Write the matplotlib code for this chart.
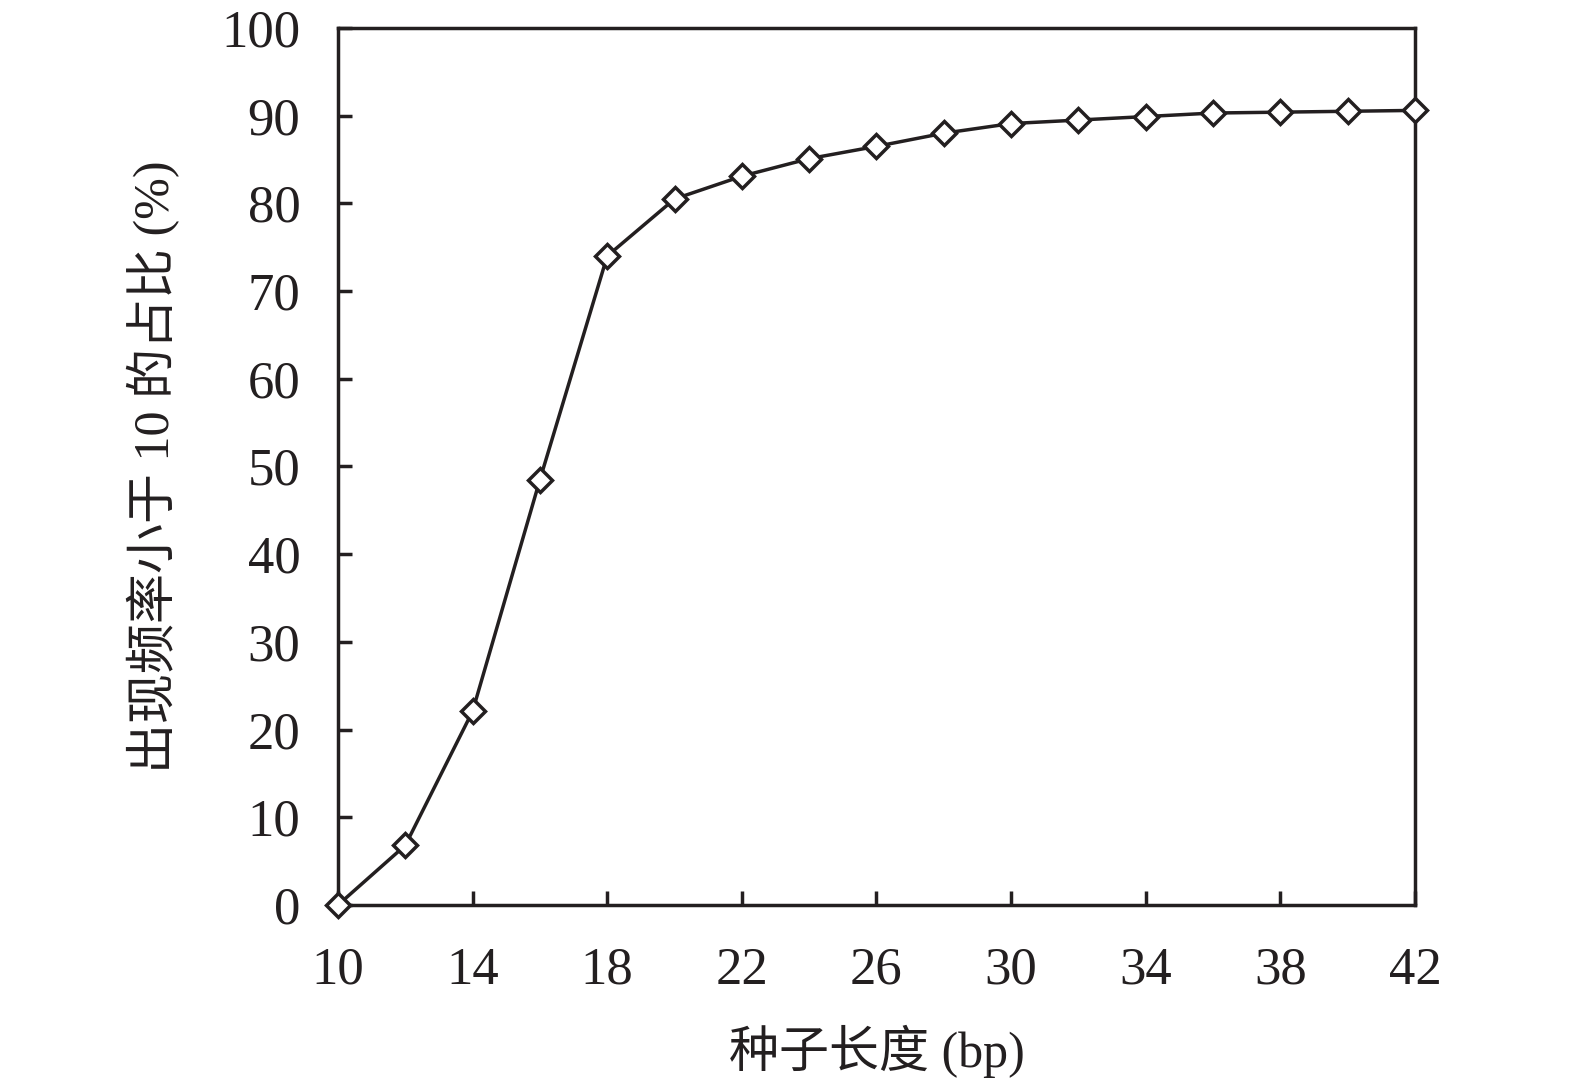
import matplotlib
matplotlib.use("Agg")
import matplotlib.pyplot as plt

seed_length = [10, 12, 14, 16, 18, 20, 22, 24, 26, 28, 30, 32, 34, 36, 38, 40, 42]
ratio = [0.0, 6.8, 22.1, 48.5, 74.0, 80.5, 83.1, 85.1, 86.5, 88.0, 89.1, 89.5, 89.9, 90.3, 90.4, 90.5, 90.6]
x_ticks = [10, 14, 18, 22, 26, 30, 34, 38, 42]
y_ticks = [0, 10, 20, 30, 40, 50, 60, 70, 80, 90, 100]
x_label = "种子长度 (bp)"
y_label = "出现频率小于 10 的占比 (%)"

plt.rcParams['font.family'] = ['Liberation Serif', 'Noto Sans CJK SC', 'DejaVu Sans']
ink = '#231f20'

fig = plt.figure(figsize=(15.75, 10.88), dpi=100)
ax = fig.add_axes([0.2146, 0.1682, 0.8984 - 0.2146, 0.9743 - 0.1682])

ax.plot(seed_length, ratio, color=ink, linewidth=2.5, marker='D', markersize=12.5,
        markerfacecolor='white', markeredgecolor=ink, markeredgewidth=2.5,
        clip_on=False, zorder=5)

ax.set_xlim(10, 42)
ax.set_ylim(0, 100)
ax.set_xticks(x_ticks)
ax.set_yticks(y_ticks)
ax.tick_params(direction='in', length=10, width=2.5, color=ink, labelsize=38,
               labelcolor=ink)
ax.tick_params(axis='x', pad=30)
ax.tick_params(axis='y', pad=27)
for s in ax.spines.values():
    s.set_linewidth(2.5)
    s.set_color(ink)

ax.set_xlabel(x_label, fontsize=36, color=ink, labelpad=22)
ax.set_ylabel(y_label, fontsize=36, color=ink, labelpad=30)

fig.savefig("out.png", dpi=100)
